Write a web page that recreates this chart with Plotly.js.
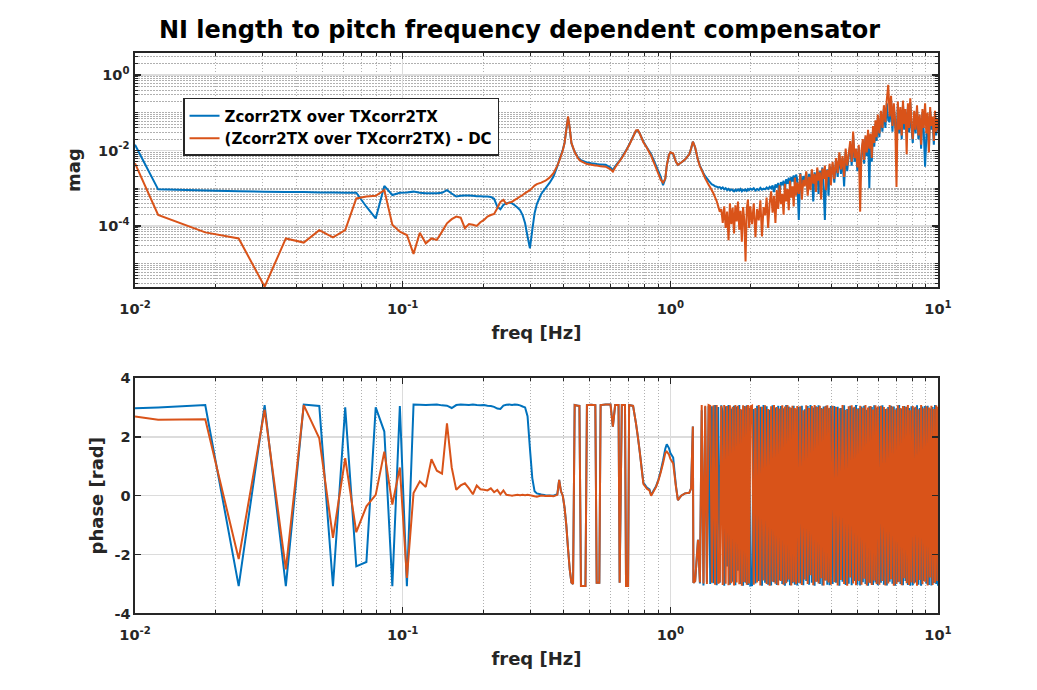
<!DOCTYPE html>
<html>
<head>
<meta charset="utf-8">
<script src="https://cdn.plot.ly/plotly-3.0.1.min.js"></script>
<style>
html,body{margin:0;padding:0;background:#fff;}
#chart{width:1037px;height:690px;}
</style>
</head>
<body>
<div id="chart"></div>
<script>
// ---------------- DATA ----------------
// Frequencies in Hz
const freqLow = [0.0100,0.0122,0.0183,0.0244,0.0305,0.0366,0.0427,0.0488,0.0549,0.0610,
  0.0671,0.0732,0.0793,0.0854,0.0915,0.0976,0.1037,0.1098,0.1159,0.1220,
  0.1281,0.1342,0.1403,0.1464,0.1525,0.1586,0.1647,0.1708,0.1769,0.1830,
  0.1891,0.1952,0.2013,0.2074,0.2135,0.2196,0.2257,0.2318,0.2379,0.2440,
  0.2501,0.2562,0.2623,0.2684,0.2745,0.2806,0.2867,0.2928,0.2989,0.3050,
  0.3111,0.3172];
const freqMid = [0.3294,0.3416,0.3538,0.3660,0.3782,0.3843,0.3904,0.3965,
  0.4026,0.4087,0.4148,0.4209,0.4270,0.4331,0.4392,0.4514,
  0.4575,0.4636,0.4819,0.4880,0.5063,0.5246,0.5307,0.5429,
  0.5490,0.5734,0.5978,0.6100,0.6222,0.6405,0.6466,0.6588,
  0.6771,0.6832,0.6954,0.7015,0.7259,0.7442,0.7564,0.7686,
  0.7930,0.8174,0.8357,0.8479,0.8662,0.8845,0.9028,0.9211,
  0.9394,0.9577,0.9699,0.9882,1.0004,1.0248,1.0492,1.0675,
  1.0980,1.1346,1.1773,1.1956,1.2139,1.2200,1.2383,1.2688];
const freqHigh = [
  1.29,1.31,1.33,1.35,1.37,1.39,1.41,1.43,1.45,1.47,1.49,1.51,1.53,1.55,1.57,1.59,1.61,1.63,
  1.65,1.67,1.69,1.71,1.73,1.75,1.77,1.79,1.81,1.83,1.85,1.87,1.89,1.91,1.93,1.95,1.97,1.99,
  2.02,2.05,2.08,2.11,2.14,2.17,2.20,2.23,2.26,2.29,2.32,2.35,2.38,2.41,2.44,2.47,2.50,
  2.53,2.56,2.59,2.62,2.65,2.68,2.71,2.74,2.77,2.80,2.83,2.86,2.89,2.92,2.95,2.98,
  3.02,3.06,3.10,3.14,3.18,3.22,3.26,3.30,3.34,3.38,3.42,3.46,3.50,
  3.54,3.58,3.62,3.66,3.70,3.74,3.78,3.82,3.86,3.90,3.94,3.98,
  4.04,4.10,4.16,4.22,4.28,4.34,4.40,4.46,4.52,4.58,4.64,4.70,4.76,4.82,4.88,4.94,5.00,
  5.06,5.12,5.18,5.24,5.30,5.36,5.42,5.48,5.54,5.60,5.66,5.72,5.78,5.84,5.90,5.96,
  6.04,6.12,6.20,6.28,6.36,6.44,6.52,6.60,6.68,6.76,6.84,6.92,7.00,
  7.08,7.16,7.24,7.32,7.40,7.48,7.56,7.64,7.72,7.80,7.88,7.96,
  8.05,8.15,8.25,8.35,8.45,8.55,8.65,8.75,8.85,8.95,
  9.05,9.15,9.25,9.35,9.45,9.55,9.65,9.75,9.85,9.95,10.0];

// Magnitude, stored as log10(mag)
const magBlueLog10Low = [-1.85,-3.03,-3.06,-3.08,-3.09,-3.10,-3.10,-3.11,-3.11,-3.12,
  -3.12,-3.49,-3.80,-2.94,-3.18,-3.12,-3.11,-3.09,-3.12,-3.13,
  -3.13,-3.13,-3.12,-3.05,-3.14,-3.22,-3.20,-3.19,-3.19,-3.20,
  -3.21,-3.21,-3.22,-3.22,-3.23,-3.28,-3.49,-3.56,-3.44,-3.40,
  -3.38,-3.40,-3.45,-3.51,-3.58,-3.71,-3.93,-4.28,-4.59,-4.11,
  -3.66,-3.42];
const magOrangeLog10Low = [-2.34,-3.71,-4.17,-4.33,-5.61,-4.33,-4.44,-4.11,-4.30,-4.11,
  -3.27,-3.22,-3.20,-3.05,-3.97,-4.15,-4.24,-4.74,-4.18,-4.46,
  -4.33,-4.37,-4.15,-3.93,-3.82,-3.75,-3.78,-4.06,-3.95,-3.97,
  -4.00,-3.90,-3.84,-3.75,-3.71,-3.68,-3.53,-3.36,-3.31,-3.42,
  -3.38,-3.36,-3.31,-3.27,-3.22,-3.18,-3.13,-3.09,-3.05,-2.99,
  -2.93,-2.89];
const magBlueLog10Mid = [-3.15,-3.00,-2.86,-2.69,-2.42,-2.26,-2.12,-1.98,
  -1.80,-1.45,-1.12,-1.42,-1.80,-1.93,-2.03,-2.18,
  -2.22,-2.26,-2.30,-2.32,-2.34,-2.35,-2.36,-2.37,
  -2.37,-2.38,-2.45,-2.52,-2.42,-2.30,-2.27,-2.18,
  -2.04,-2.00,-1.90,-1.85,-1.63,-1.48,-1.47,-1.55,
  -1.76,-1.92,-2.03,-2.10,-2.25,-2.40,-2.55,-2.70,
  -2.92,-2.75,-2.40,-2.12,-2.05,-2.10,-2.30,-2.38,
  -2.32,-2.24,-2.10,-1.95,-1.77,-1.80,-1.92,-2.25];
const magOrangeLog10Mid = [-2.85,-2.80,-2.72,-2.60,-2.40,-2.28,-2.14,-2.00,
  -1.80,-1.45,-1.10,-1.40,-1.80,-1.92,-2.04,-2.20,
  -2.25,-2.28,-2.34,-2.36,-2.38,-2.40,-2.40,-2.41,
  -2.42,-2.43,-2.50,-2.56,-2.45,-2.32,-2.28,-2.20,
  -2.06,-2.01,-1.91,-1.86,-1.64,-1.47,-1.46,-1.55,
  -1.78,-1.93,-2.06,-2.14,-2.30,-2.46,-2.62,-2.78,
  -2.85,-2.75,-2.40,-2.12,-2.05,-2.08,-2.30,-2.38,
  -2.32,-2.24,-2.10,-1.95,-1.77,-1.80,-1.92,-2.25];
const magBlueLog10High = [
  -2.40,-2.50,-2.60,-2.68,-2.74,-2.80,-2.85,-2.90,-2.92,-2.95,-2.96,-2.98,-2.97,-3.01,-2.98,-3.03,-3.00,-3.05,
  -3.02,-3.06,-3.03,-3.05,-3.08,-3.04,-3.07,-3.03,-3.06,-3.02,-3.08,-3.04,-3.06,-3.03,-3.07,-3.02,-3.05,-3.01,
  -3.04,-3.00,-3.06,-3.02,-3.05,-2.99,-3.04,-3.01,-3.03,-2.98,-3.02,-2.96,-3.00,-2.93,-3.10,-2.90,-2.98,
  -2.86,-3.15,-2.84,-2.92,-2.80,-3.05,-2.76,-2.88,-2.72,-2.95,-2.70,-2.82,-2.66,-2.90,-2.64,-2.75,
  -3.84,-2.60,-2.95,-2.68,-2.80,-2.58,-3.10,-2.62,-2.85,-2.55,-3.35,-2.58,-2.90,
  -2.50,-3.15,-2.55,-2.78,-2.45,-3.05,-3.84,-2.65,-2.50,-3.20,-2.42,-2.70,
  -2.40,-2.85,-2.25,-2.70,-2.12,-2.62,-2.20,-2.95,-2.05,-2.55,-2.15,-1.85,-2.40,-1.60,-2.30,-2.00,-2.55,
  -1.90,-2.80,-2.10,-1.80,-2.35,-1.65,-2.15,-1.55,-3.00,-1.60,-2.30,-1.42,-1.90,-1.30,-1.75,-1.15,
  -1.65,-1.05,-1.50,-0.90,-1.40,-0.75,-1.20,-1.25,-0.65,-1.50,-0.85,-1.35,-1.60,
  -0.80,-1.55,-0.95,-1.70,-0.78,-1.45,-1.00,-1.55,-0.85,-1.52,-0.72,-1.38,
  -1.80,-1.05,-1.55,-0.90,-1.70,-1.15,-1.95,-1.00,-1.50,-2.43,
  -1.65,-1.10,-2.00,-0.95,-1.45,-1.20,-1.85,-1.05,-1.60,-1.25,-1.50];
const magOrangeLog10High = [
  -2.42,-2.52,-2.63,-2.74,-2.82,-2.91,-2.98,-3.06,-3.14,-3.24,-3.34,-3.48,-3.62,-3.55,-3.92,-3.48,-4.05,-3.62,
  -4.38,-3.40,-3.95,-3.52,-4.20,-3.45,-3.88,-3.35,-4.10,-3.60,-4.42,-3.50,-3.85,-4.94,-3.55,-3.30,-4.05,-3.48,
  -3.95,-3.40,-4.30,-3.55,-3.85,-3.32,-4.28,-3.50,-3.72,-3.25,-4.05,-3.40,-3.08,-3.65,-3.20,-3.92,-3.05,
  -3.55,-2.92,-3.42,-3.15,-3.70,-2.88,-3.35,-3.02,-3.58,-2.80,-3.25,-2.95,-3.48,-2.72,-3.20,-2.85,
  -3.15,-2.62,-3.30,-2.78,-2.95,-2.55,-3.20,-2.70,-3.05,-2.50,-2.88,-2.62,-3.10,
  -2.45,-2.80,-2.58,-3.30,-2.48,-2.75,-2.40,-3.05,-2.52,-2.70,-2.35,-2.92,
  -2.30,-2.75,-2.20,-2.60,-2.05,-2.50,-2.15,-2.70,-1.95,-2.40,-2.10,-1.75,-2.30,-1.50,-2.20,-1.95,-2.45,
  -1.85,-3.62,-2.00,-1.70,-2.25,-1.60,-2.05,-1.45,-1.95,-1.55,-2.20,-1.35,-1.80,-1.20,-1.65,-1.05,
  -1.55,-0.95,-1.40,-0.80,-1.25,-0.65,-0.26,-1.10,-0.55,-1.35,-0.75,-1.20,-2.97,
  -0.70,-1.45,-0.85,-1.60,-0.68,-1.30,-0.90,-2.10,-0.75,-1.40,-0.62,-1.25,
  -1.70,-0.95,-1.45,-0.80,-1.60,-1.05,-1.85,-0.90,-1.40,-0.75,
  -1.55,-1.00,-2.05,-0.85,-1.35,-1.10,-1.75,-0.95,-1.50,-1.15,-1.45];

// Phase in rad
const phaseBlueLow = [2.97,3.00,3.08,-3.07,3.08,-3.07,3.10,3.05,-3.07,3.00,
  -2.40,-2.25,3.00,2.18,-3.07,3.05,-3.07,3.10,3.09,3.08,
  3.09,3.10,3.07,3.06,2.98,3.08,3.10,3.09,3.08,3.10,
  3.08,3.07,3.08,3.06,3.05,3.02,2.96,2.95,3.06,3.09,
  3.10,3.08,3.10,3.09,3.07,3.03,3.00,2.70,1.60,0.60,
  0.15,0.08];
const phaseOrangeLow = [2.69,2.58,2.60,-2.15,2.92,-2.50,3.08,1.95,-1.43,1.28,
  -1.24,-0.36,0.03,1.50,-0.30,0.96,-2.79,0.09,0.49,0.30,
  1.24,0.85,0.75,2.46,0.96,0.20,0.35,0.42,0.25,0.05,
  0.35,0.22,0.20,0.18,0.25,0.12,0.20,0.05,0.18,0.03,
  0.02,0.00,0.02,0.03,0.02,0.03,0.02,0.03,0.02,0.00,
  -0.02,-0.03];
const phaseBlueMid = [0.04,0.02,0.01,0.00,0.05,0.54,0.15,0.00,
  -0.40,-1.00,-1.80,-2.50,-2.95,-3.00,3.08,3.06,
  3.05,-3.07,-3.07,3.08,3.09,3.08,-2.96,-2.96,
  3.08,3.10,3.10,2.35,3.08,3.08,-2.96,3.08,
  3.08,-3.07,-3.07,3.08,3.05,2.46,2.00,1.50,
  0.45,0.28,0.22,0.02,0.18,0.32,0.55,0.85,
  1.20,1.60,1.75,1.62,1.45,1.30,0.35,-0.15,
  0.00,0.08,0.10,0.25,2.35,-2.96,-2.90,-1.50];
const phaseOrangeMid = [0.01,-0.01,0.00,-0.02,0.03,0.54,0.15,0.00,
  -0.40,-1.00,-1.80,-2.50,-2.95,-3.00,3.08,3.06,
  3.05,-3.07,-3.07,3.08,3.09,3.08,-2.96,-2.96,
  3.08,3.10,3.10,2.35,3.08,3.08,-2.96,3.08,
  3.08,-3.07,-3.07,3.08,3.05,2.46,2.00,1.50,
  0.40,0.24,0.18,0.00,0.15,0.30,0.52,0.80,
  1.10,1.45,1.50,1.40,1.25,1.10,0.32,-0.15,
  0.00,0.08,0.10,0.25,2.35,-2.96,-2.90,-1.50];
const phaseBlueHigh = [
  -2.98,2.90,-3.05,3.02,-2.94,3.06,-3.00,3.04,-2.97,3.08,-3.04,3.01,-2.96,3.07,2.85,-3.06,3.04,-2.40,
  3.08,-3.02,2.96,-2.92,3.06,-3.04,3.03,-2.55,3.08,-3.00,2.92,-3.06,3.05,-2.96,3.07,-3.03,2.98,-3.05,
  -3.04,2.95,-2.98,3.06,-2.90,3.02,-3.06,3.08,-2.96,3.04,-3.02,2.92,-3.05,3.07,-2.94,3.00,-3.03,
  3.06,-2.88,3.05,-3.00,2.97,-3.06,3.08,-2.92,3.03,-3.04,2.99,-2.97,3.06,-3.02,2.94,-3.05,
  3.02,-2.98,3.06,-3.04,2.94,-2.90,3.05,-3.02,3.08,-2.96,3.00,-3.06,3.04,
  -2.92,3.07,-3.00,2.98,-3.05,3.03,-2.88,3.06,-3.02,2.97,-3.04,3.05,
  -3.00,3.05,-2.96,3.02,-3.06,2.98,-2.92,3.07,-3.03,2.95,-2.99,3.06,-3.04,3.00,-2.90,3.08,-3.02,
  2.97,-3.05,3.03,-2.94,3.06,-3.00,2.92,-3.06,3.04,-2.97,3.01,-3.03,3.07,-2.95,2.99,-3.04,
  3.04,-2.96,3.07,-3.02,2.95,-3.05,3.01,-2.92,3.06,-2.99,3.03,-3.06,2.97,
  -2.94,3.08,-3.00,2.96,-3.04,3.05,-2.90,3.02,-3.03,2.98,-3.06,3.04,
  -3.04,3.00,-2.95,3.07,-3.02,2.98,-3.06,3.03,-2.90,3.05,
  -2.99,3.06,-3.03,2.96,-3.05,3.01,-2.97,3.08,-3.00,2.94,-3.06];
const phaseOrangeHigh = [
  -2.95,3.08,-2.98,3.06,-3.00,3.08,3.05,-2.96,3.07,-3.02,3.08,-2.98,-2.90,3.06,-3.03,3.08,-2.99,3.05,
  -3.04,3.07,-2.97,3.02,-3.05,3.08,-2.95,3.06,-3.01,2.95,-3.06,3.07,-2.93,3.04,-3.02,3.08,-2.98,3.03,
  3.06,-3.02,2.98,-2.95,3.08,-3.05,3.02,-2.88,3.07,-3.00,2.95,-3.06,3.04,-2.92,3.08,-2.99,3.01,
  -3.04,2.96,-2.90,3.07,-3.02,3.03,-2.97,3.08,-2.85,3.00,-3.05,3.06,-2.94,2.98,-3.01,3.05,
  -2.96,3.04,-3.03,2.90,-2.85,3.07,-3.00,2.98,-2.70,3.05,-3.04,3.08,-2.92,
  3.01,-2.98,3.06,-2.80,2.96,-3.05,3.03,-2.88,3.07,-2.95,2.99,-3.02,
  3.06,-2.94,3.01,-3.05,2.97,-2.86,3.08,-3.00,2.92,-3.06,3.04,-2.78,3.07,-2.98,3.02,-3.04,2.95,
  -2.90,3.06,-3.02,2.99,-2.82,3.08,-3.05,3.00,-2.96,3.05,-3.03,2.93,-2.88,3.07,-3.00,3.03,
  -3.02,3.06,-2.90,3.01,-3.05,2.96,-2.98,3.08,-2.84,3.03,-3.06,2.93,-3.00,
  3.07,-2.92,2.98,-3.04,3.05,-2.80,3.02,-2.97,3.08,-3.03,2.90,-2.95,
  3.05,-2.98,3.02,-3.06,2.94,-2.86,3.08,-3.01,2.97,-2.92,
  3.04,-3.05,3.00,-2.78,3.06,-3.03,2.95,-2.96,3.07,-2.90,3.02];

const seriesNames = ['Zcorr2TX over TXcorr2TX', '(Zcorr2TX over TXcorr2TX) - DC'];
const xTickLabels = ['10<sup>-2</sup>','10<sup>-1</sup>','10<sup>0</sup>','10<sup>1</sup>'];
const magTickLabels = ['10<sup>-4</sup>','10<sup>-2</sup>','10<sup>0</sup>'];
const phaseTickLabels = ['-4','-2','0','2','4'];

// ---------------- BUILD ----------------
const freq = freqLow.concat(freqMid, freqHigh);
const toLin = a => a.map(v => Math.pow(10, v));
const magBlue = toLin(magBlueLog10Low.concat(magBlueLog10Mid, magBlueLog10High));
const magOrange = toLin(magOrangeLog10Low.concat(magOrangeLog10Mid, magOrangeLog10High));
const phaseBlue = phaseBlueLow.concat(phaseBlueMid, phaseBlueHigh);
const phaseOrange = phaseOrangeLow.concat(phaseOrangeMid, phaseOrangeHigh);

function minorVals(e0, e1, majorDecades) {
  const out = [];
  for (let e = e0; e <= e1; e++) {
    for (let d = 1; d <= 9; d++) {
      if (d === 1 && majorDecades.indexOf(e) >= 0) continue;
      out.push(Number((d * Math.pow(10, e)).toPrecision(3)));
    }
  }
  return out;
}
const xMinor = minorVals(-2, 0, [-2, -1, 0]);
const magMinor = minorVals(-6, 0, [-4, -2, 0]);

const BLUE = '#0072BD', ORANGE = '#D95319', AX = '#262626';
const FONT = 'DejaVu Sans';
const titleFont = { size: 18, family: FONT, weight: 'bold', color: AX };

function xAxis(anchor, domain) {
  return {
    type: 'log', range: [-2, 1], domain: domain, anchor: anchor,
    tickmode: 'array', tickvals: [0.01, 0.1, 1, 10], ticktext: xTickLabels,
    ticks: 'inside', ticklen: 6, tickwidth: 1.3, tickcolor: AX,
    showline: true, linecolor: AX, linewidth: 1.6, mirror: 'allticks',
    showgrid: true, gridcolor: '#dcdcdc', gridwidth: 1.5, zeroline: false,
    automargin: false, ticklabelstandoff: 8,
    minor: { tickmode: 'array', tickvals: xMinor, ticks: 'inside', ticklen: 3,
             tickcolor: AX, tickwidth: 1, showgrid: true, gridcolor: '#b0b0b0',
             gridwidth: 1, griddash: '1.5px,1.5px' },
    title: { text: 'freq [Hz]', font: titleFont, standoff: 10 }
  };
}

const traces = [
  { x: freq, y: magBlue, xaxis: 'x', yaxis: 'y', type: 'scatter', mode: 'lines',
    line: { color: BLUE, width: 2, simplify: false }, name: seriesNames[0], showlegend: true, hoverinfo: 'skip' },
  { x: freq, y: magOrange, xaxis: 'x', yaxis: 'y', type: 'scatter', mode: 'lines',
    line: { color: ORANGE, width: 2, simplify: false }, name: seriesNames[1], showlegend: true, hoverinfo: 'skip' },
  { x: freq, y: phaseBlue, xaxis: 'x2', yaxis: 'y2', type: 'scatter', mode: 'lines',
    line: { color: BLUE, width: 2, simplify: false }, name: seriesNames[0], showlegend: false, hoverinfo: 'skip' },
  { x: freq, y: phaseOrange, xaxis: 'x2', yaxis: 'y2', type: 'scatter', mode: 'lines',
    line: { color: ORANGE, width: 2, simplify: false }, name: seriesNames[1], showlegend: false, hoverinfo: 'skip' }
];

const xDom = [0.1302, 0.9045];
const layout = {
  width: 1037, height: 690,
  margin: { l: 0, r: 0, t: 0, b: 0 },
  paper_bgcolor: '#ffffff', plot_bgcolor: '#ffffff',
  font: { family: FONT, size: 14.5, color: AX, weight: 'bold' },
  title: { text: 'NI length to pitch frequency dependent compensator',
           font: { family: FONT, size: 24, color: '#000000', weight: 'bold' },
           x: 0.501, xanchor: 'center', xref: 'container', y: 0.9565, yanchor: 'middle', yref: 'container' },
  showlegend: true,
  legend: { x: 0.1765, y: 0.858, xanchor: 'left', yanchor: 'top',
            bgcolor: '#ffffff', bordercolor: AX, borderwidth: 1.5,
            font: { family: FONT, size: 15, color: '#000000', weight: 'bold' },
            tracegroupgap: 0 },
  xaxis: xAxis('y', xDom),
  xaxis2: xAxis('y2', xDom),
  yaxis: {
    type: 'log', range: [-5.616, 0.583], domain: [0.5841, 0.9232], anchor: 'x',
    tickmode: 'array', tickvals: [1e-4, 1e-2, 1], ticktext: magTickLabels,
    ticks: 'inside', ticklen: 6, tickwidth: 1.3, tickcolor: AX,
    showline: true, linecolor: AX, linewidth: 1.6, mirror: 'allticks',
    showgrid: true, gridcolor: '#dcdcdc', gridwidth: 1.5, zeroline: false,
    automargin: false, ticklabelstandoff: 1,
    minor: { tickmode: 'array', tickvals: magMinor, ticks: 'inside', ticklen: 3,
             tickcolor: AX, tickwidth: 1, showgrid: true, gridcolor: '#b0b0b0',
             gridwidth: 1, griddash: '1.5px,1.5px' },
    title: { text: 'mag', font: titleFont, standoff: 13 }
  },
  yaxis2: {
    type: 'linear', range: [-4, 4], domain: [0.1109, 0.4522], anchor: 'x2',
    tickmode: 'array', tickvals: [-4, -2, 0, 2, 4], ticktext: phaseTickLabels,
    ticks: 'inside', ticklen: 6, tickwidth: 1.3, tickcolor: AX,
    showline: true, linecolor: AX, linewidth: 1.6, mirror: 'allticks',
    showgrid: true, gridcolor: '#dcdcdc', gridwidth: 1.5, zeroline: false,
    automargin: false, ticklabelstandoff: 0,
    title: { text: 'phase [rad]', font: titleFont, standoff: 6 }
  }
};

Plotly.newPlot('chart', traces, layout, { displayModeBar: false, staticPlot: true });
</script>
</body>
</html>
